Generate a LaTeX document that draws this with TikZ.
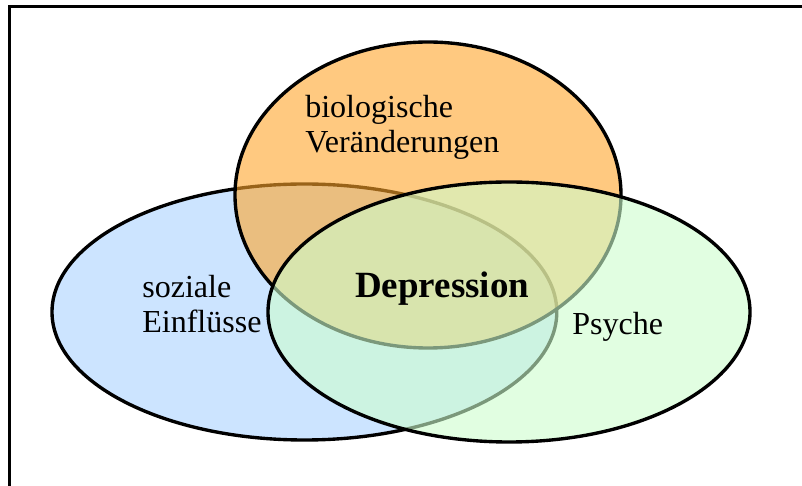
\documentclass[tikz,border=0pt]{standalone}
\usepackage{fontspec}
\setmainfont{Liberation Serif}
\definecolor{sozialblau}{RGB}{204,228,255}
\definecolor{bioorange}{RGB}{255,165,43}
\definecolor{psychegruen}{RGB}{205,254,205}
\tikzset{
  kreis/.style={line width=2.4pt},
  schrift/.style={inner sep=0pt,align=left,font=\fontsize{22.8}{25.6}\selectfont}
}

\begin{document}
\begin{tikzpicture}
  \useasboundingbox (0,0) rectangle (20.05,12.15);
  \draw[line width=2.6pt] (0.24,-0.5) -- (0.24,11.99) -- (20.6,11.99);

  \draw[kreis,fill=sozialblau] (7.61,4.35) ellipse (6.31 and 3.2);
  \draw[kreis,fill=bioorange,fill opacity=0.6] (10.7,7.275) ellipse (4.825 and 3.825);
  \draw[kreis,fill=psychegruen,fill opacity=0.6] (12.725,4.35) ellipse (6.025 and 3.25);

  \node[schrift,anchor=base west] (bio) at (7.625,8.325) {biologische\\Veränderungen};
  \node[schrift,anchor=base west] (sozial) at (3.55,3.825) {soziale\\Einflüsse};
  \node[inner sep=0pt,anchor=base west,font=\fontsize{26.3}{30}\selectfont\bfseries] (depr) at (8.875,4.7) {Depression};
  \node[schrift,anchor=base west] (psyche) at (14.3,3.775) {Psyche};
\end{tikzpicture}
\end{document}
